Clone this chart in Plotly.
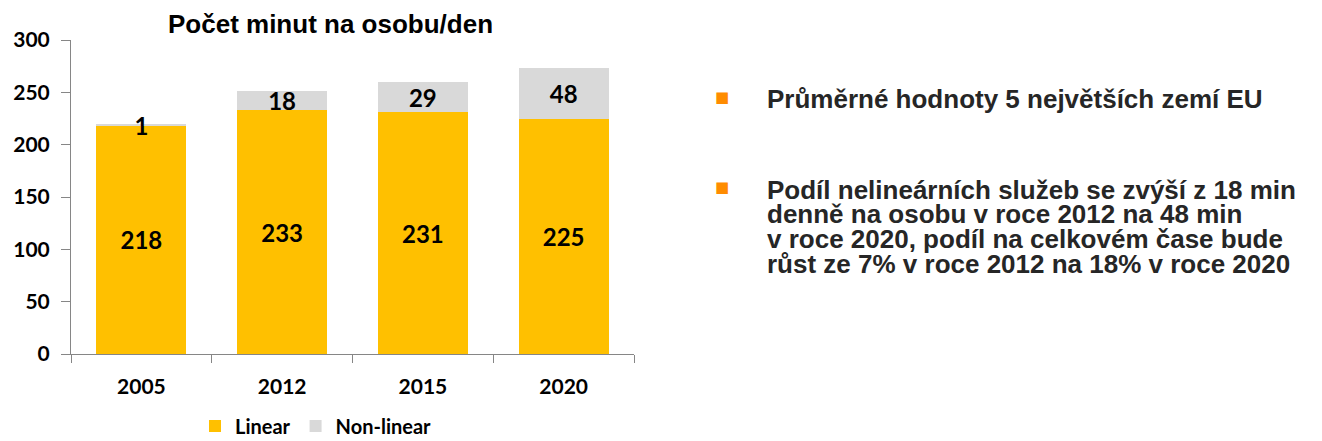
import plotly.graph_objects as go

years = ["2005", "2012", "2015", "2020"]
linear = [218, 233, 231, 225]
nonlinear = [1, 18, 29, 48]
y_ticks = [0, 50, 100, 150, 200, 250, 300]

title_text = "Počet minut na osobu/den"
bullet1 = "Průměrné hodnoty 5 největších zemí EU"
bullet2_lines = [
    "Podíl nelineárních služeb se zvýší z 18 min",
    "denně na osobu v roce 2012 na 48 min",
    "v roce 2020, podíl na celkovém čase bude",
    "růst ze 7% v roce 2012 na 18% v roce 2020",
]

# page offset from default body margin
OX, OY = 8, 8
W, H = 1322 - OX, 441 - OY
# plot area in page pixels
PL, PR, PT, PB = 71, 634, 40, 354
ML, MT = PL - OX, PT - OY
PW, PH = PR - PL, PB - PT
MR = W - ML - PW
MB = H - MT - PH

def px(x):
    return (x - PL) / PW

def py(y):
    return (PB - y) / PH

YELLOW = "#FFC000"
GRAY = "#D9D9D9"
NUM_FONT = "Lato"
TXT_FONT = "Liberation Sans"

label_font = dict(family=NUM_FONT, size=24, color="#000000", weight="bold")

fig = go.Figure()
fig.add_trace(go.Bar(
    x=years, y=linear, name="Linear", marker=dict(color=YELLOW, line=dict(width=0)),
    text=[str(v) for v in linear], textposition="inside", insidetextanchor="middle",
    textangle=0, textfont=label_font, constraintext="none", hoverinfo="skip",
))
fig.add_trace(go.Bar(
    x=years, y=nonlinear, name="Non-linear", marker=dict(color=GRAY, line=dict(width=0)),
    text=[str(v) for v in nonlinear], textposition="inside", insidetextanchor="middle",
    textangle=0, textfont=label_font, constraintext="none", hoverinfo="skip",
))

annotations = [
    dict(text="<b>" + title_text + "</b>", xref="paper", yref="paper",
         x=px(330), y=py(24), xanchor="center", yanchor="middle", showarrow=False,
         font=dict(family=TXT_FONT, size=26, color="#000000")),
]
bullet_style = dict(family="DejaVu Sans", size=15, color="#FF8C00")
text_style = dict(family=TXT_FONT, size=26, color="#262626")
annotations.append(dict(text="■", xref="paper", yref="paper", x=px(722), y=py(97),
                        xanchor="center", yanchor="middle", showarrow=False, font=bullet_style))
annotations.append(dict(text="<b>" + bullet1 + "</b>", xref="paper", yref="paper",
                        x=px(765), y=py(99), xanchor="left", yanchor="middle",
                        showarrow=False, font=text_style))
annotations.append(dict(text="■", xref="paper", yref="paper", x=px(722), y=py(187),
                        xanchor="center", yanchor="middle", showarrow=False, font=bullet_style))
for i, line in enumerate(bullet2_lines):
    annotations.append(dict(text="<b>" + line + "</b>", xref="paper", yref="paper",
                            x=px(765), y=py(190 + 24.5 * i), xanchor="left", yanchor="middle",
                            showarrow=False, font=text_style))

fig.update_layout(
    width=W, height=H, barmode="stack", bargap=0.36,
    margin=dict(l=ML, r=MR, t=MT, b=MB, autoexpand=False),
    paper_bgcolor="white", plot_bgcolor="white",
    showlegend=True,
    legend=dict(orientation="h", x=px(316), y=py(426), xanchor="center", yanchor="middle",
                font=dict(family=NUM_FONT, size=20, color="#000000", weight="bold"),
                itemwidth=30, traceorder="normal", tracegroupgap=0),
    annotations=annotations,
    xaxis=dict(type="category", showline=True, linecolor="#868686", linewidth=1,
               ticks="outside", tickson="boundaries", ticklen=8, tickcolor="#868686",
               ticklabelstandoff=14,
               tickfont=dict(family=NUM_FONT, size=21, color="#000000", weight="bold"),
               showgrid=False, zeroline=False),
    yaxis=dict(range=[0, 300], tickvals=y_ticks, showline=True, linecolor="#868686",
               linewidth=1, ticks="outside", ticklen=9, tickcolor="#868686",
               ticklabelstandoff=7,
               tickfont=dict(family=NUM_FONT, size=21, color="#000000", weight="bold"),
               showgrid=False, zeroline=False),
)

fig.write_html("out.html")
